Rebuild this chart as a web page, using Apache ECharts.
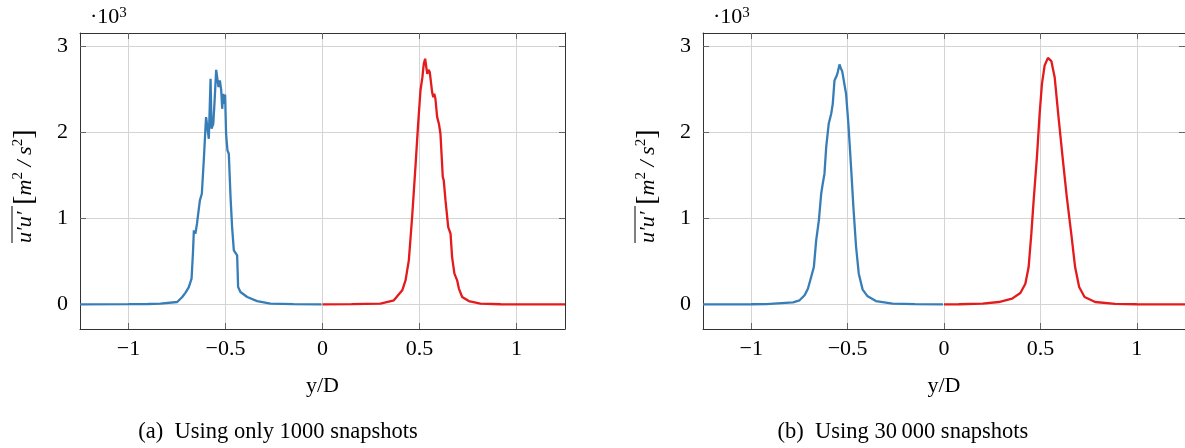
<!DOCTYPE html>
<html>
<head>
<meta charset="utf-8">
<script src="https://cdn.jsdelivr.net/npm/echarts@6/dist/echarts.min.js"></script>
<style>
html, body { margin: 0; padding: 0; background: #fff; }
#myChart { width: 1185px; height: 448px; }
</style>
</head>
<body>
<div id="myChart"></div>
<script>
// (a) 1000 snapshots - blue (y/D < 0)
let aBlueX = [-1.25, -1.0, -0.9, -0.835, -0.749, -0.723, -0.706, -0.689, -0.675, -0.668, -0.663, -0.655, -0.647, -0.632, -0.622, -0.612, -0.603, -0.600, -0.591, -0.586, -0.577, -0.572, -0.563, -0.557, -0.548, -0.543, -0.536, -0.529, -0.522, -0.517, -0.512, -0.507, -0.502, -0.497, -0.490, -0.483, -0.474, -0.466, -0.457, -0.448, -0.440, -0.435, -0.423, -0.388, -0.337, -0.268, -0.15, -0.005]
let aBlueV = [0, 2, 4, 8, 27, 85, 136, 201, 298, 589, 860, 822, 938, 1209, 1287, 1674, 2062, 2178, 2186, 1926, 2624, 2043, 2101, 2333, 2729, 2740, 2527, 2605, 2488, 2275, 2450, 2333, 2442, 1985, 1791, 1752, 1248, 899, 628, 636, 570, 201, 143, 85, 38, 8, 2, 0]
// (a) red (y/D > 0)
let aRedX = [0.0, 0.15, 0.299, 0.368, 0.411, 0.428, 0.445, 0.462, 0.479, 0.493, 0.505, 0.515, 0.522, 0.529, 0.535, 0.540, 0.546, 0.553, 0.558, 0.565, 0.571, 0.576, 0.582, 0.591, 0.600, 0.608, 0.620, 0.625, 0.634, 0.648, 0.660, 0.668, 0.680, 0.694, 0.703, 0.720, 0.754, 0.814, 0.918, 1.1, 1.25]
let aRedV = [0, 2, 8, 47, 163, 279, 512, 1016, 1597, 2101, 2488, 2643, 2798, 2857, 2760, 2682, 2729, 2702, 2721, 2469, 2411, 2450, 2392, 2178, 2101, 1985, 1481, 1442, 1209, 899, 822, 550, 357, 279, 183, 85, 38, 8, 1, 0, 0]
// (b) 30 000 snapshots - blue
let bBlueX = [-1.25, -1.0, -0.921, -0.783, -0.749, -0.723, -0.706, -0.689, -0.675, -0.663, -0.649, -0.637, -0.629, -0.620, -0.611, -0.598, -0.585, -0.577, -0.568, -0.556, -0.551, -0.542, -0.534, -0.528, -0.522, -0.517, -0.508, -0.496, -0.482, -0.470, -0.456, -0.442, -0.422, -0.396, -0.353, -0.267, -0.15, -0.005]
let bBlueV = [0, 1, 3, 23, 47, 105, 182, 318, 434, 744, 977, 1287, 1403, 1520, 1829, 2101, 2217, 2333, 2605, 2663, 2702, 2791, 2740, 2713, 2709, 2566, 2450, 2101, 1597, 1132, 667, 357, 171, 93, 38, 8, 2, 0]
// (b) red
let bRedX = [0.0, 0.077, 0.2, 0.284, 0.353, 0.396, 0.422, 0.439, 0.453, 0.465, 0.482, 0.496, 0.508, 0.522, 0.539, 0.557, 0.574, 0.594, 0.615, 0.637, 0.660, 0.680, 0.701, 0.729, 0.784, 0.887, 1.0, 1.25]
let bRedV = [0, 1, 8, 27, 66, 132, 240, 434, 822, 1209, 1713, 2217, 2566, 2779, 2868, 2829, 2643, 2178, 1713, 1248, 822, 434, 201, 85, 27, 5, 1, 0]

let xTicks = [-1, -0.5, 0, 0.5, 1]
let yTicks = [0, 1000, 2000, 3000]
let yMin = -287
let yMax = 3157

let blue = '#377eb8'
let red = '#e41a1c'
let serif = 'Liberation Serif'

function pairs(xs, vs) {
    return xs.map((x, i) => [x, vs[i]])
}
function fmtX(v) {
    return v < 0 ? '\u2212' + Math.abs(v) : String(v)
}

let myChart = echarts.init(document.getElementById('myChart'))

let grids = [
    { left: 80, top: 33, width: 485, height: 296 },
    { left: 703, top: 33, width: 484, height: 296 }
]
let boxLine = { show: true, onZero: false, lineStyle: { color: '#333', width: 1 } }
let tickStyle = { color: '#666', width: 1 }

let xAxes = []
let yAxes = []
grids.forEach((g, i) => {
    xAxes.push({
        type: 'value', gridIndex: i, position: 'bottom', min: -1.25, max: 1.25,
        axisLine: boxLine,
        axisTick: { inside: true, length: 6, lineStyle: tickStyle, customValues: xTicks },
        axisLabel: { customValues: xTicks, formatter: fmtX, fontFamily: serif, fontSize: 22, color: '#000', margin: 9 },
        splitLine: { show: true, lineStyle: { color: '#d4d4d4', width: 1 } },
        name: 'y/D', nameLocation: 'middle', nameGap: 46,
        nameTextStyle: { fontFamily: serif, fontSize: 22, color: '#000' }
    })
    xAxes.push({
        type: 'value', gridIndex: i, position: 'top', min: -1.25, max: 1.25,
        axisLine: boxLine,
        axisTick: { inside: true, length: 6, lineStyle: tickStyle, customValues: xTicks },
        axisLabel: { show: false },
        splitLine: { show: false }
    })
    yAxes.push({
        type: 'value', gridIndex: i, position: 'left', min: yMin, max: yMax,
        axisLine: boxLine,
        axisTick: { inside: true, length: 6, lineStyle: tickStyle, customValues: yTicks },
        axisLabel: { customValues: yTicks, formatter: v => String(v / 1000), fontFamily: serif, fontSize: 22, color: '#000', margin: 12 },
        splitLine: { show: true, lineStyle: { color: '#d4d4d4', width: 1 } }
    })
    yAxes.push({
        type: 'value', gridIndex: i, position: 'right', min: yMin, max: yMax,
        axisLine: boxLine,
        axisTick: { inside: true, length: 6, lineStyle: tickStyle, customValues: yTicks },
        axisLabel: { show: false },
        splitLine: { show: false }
    })
})

function lineSeries(data, color, panel) {
    return {
        type: 'line', data: data, xAxisIndex: panel * 2, yAxisIndex: panel * 2,
        showSymbol: false, symbol: 'none', silent: true, animation: false,
        lineStyle: { color: color, width: 2.3 }, itemStyle: { color: color }
    }
}

// y axis label: overline u'u' [m^2/s^2], rotated
function yLabel(cx, by) {
    return {
        type: 'group', x: cx, y: by, rotation: Math.PI / 2,
        children: [
            {
                type: 'text',
                style: {
                    x: 0, y: 0, align: 'left', verticalAlign: 'middle',
                    text: '{u|u\u2032u\u2032}  {b|[}{i|m}{s|2}{i| / s}{s|2}{b|]}',
                    rich: {
                        u: { fontFamily: serif, fontStyle: 'italic', fontSize: 22, fill: '#000' },
                        b: { fontFamily: serif, fontSize: 28, fill: '#000' },
                        i: { fontFamily: serif, fontStyle: 'italic', fontSize: 22, fill: '#000' },
                        s: { fontFamily: serif, fontSize: 15, verticalAlign: 'top', fill: '#000' }
                    }
                }
            },
            {
                type: 'line',
                shape: { x1: 0, y1: -13, x2: 37, y2: -13 },
                style: { stroke: '#000', lineWidth: 1 }
            }
        ]
    }
}
function powLabel(x) {
    return {
        type: 'text', x: x, y: 17,
        style: {
            text: '{a|\u00b710}{s|3}', align: 'left', verticalAlign: 'middle',
            rich: {
                a: { fontFamily: serif, fontSize: 22, fill: '#000' },
                s: { fontFamily: serif, fontSize: 15, verticalAlign: 'top', fill: '#000' }
            }
        }
    }
}
function caption(x, txt) {
    return {
        type: 'text', x: x, y: 432,
        style: { text: txt, align: 'center', verticalAlign: 'middle', fontFamily: serif, fontSize: 22.5, fill: '#000' }
    }
}

let option = {
    animation: false,
    grid: grids,
    xAxis: xAxes,
    yAxis: yAxes,
    series: [
        lineSeries(pairs(aBlueX, aBlueV), blue, 0),
        lineSeries(pairs(aRedX, aRedV), red, 0),
        lineSeries(pairs(bBlueX, bBlueV), blue, 1),
        lineSeries(pairs(bRedX, bRedV), red, 1)
    ],
    graphic: [
        powLabel(90),
        powLabel(713),
        yLabel(25, 243),
        yLabel(648, 243),
        caption(278, '(a)\u2002Using only 1000 snapshots'),
        caption(903, '(b)\u2002Using 30\u2009000 snapshots')
    ]
}
myChart.setOption(option)

window.addEventListener('resize', () => {
    myChart.resize()
})
</script>
</body>
</html>
